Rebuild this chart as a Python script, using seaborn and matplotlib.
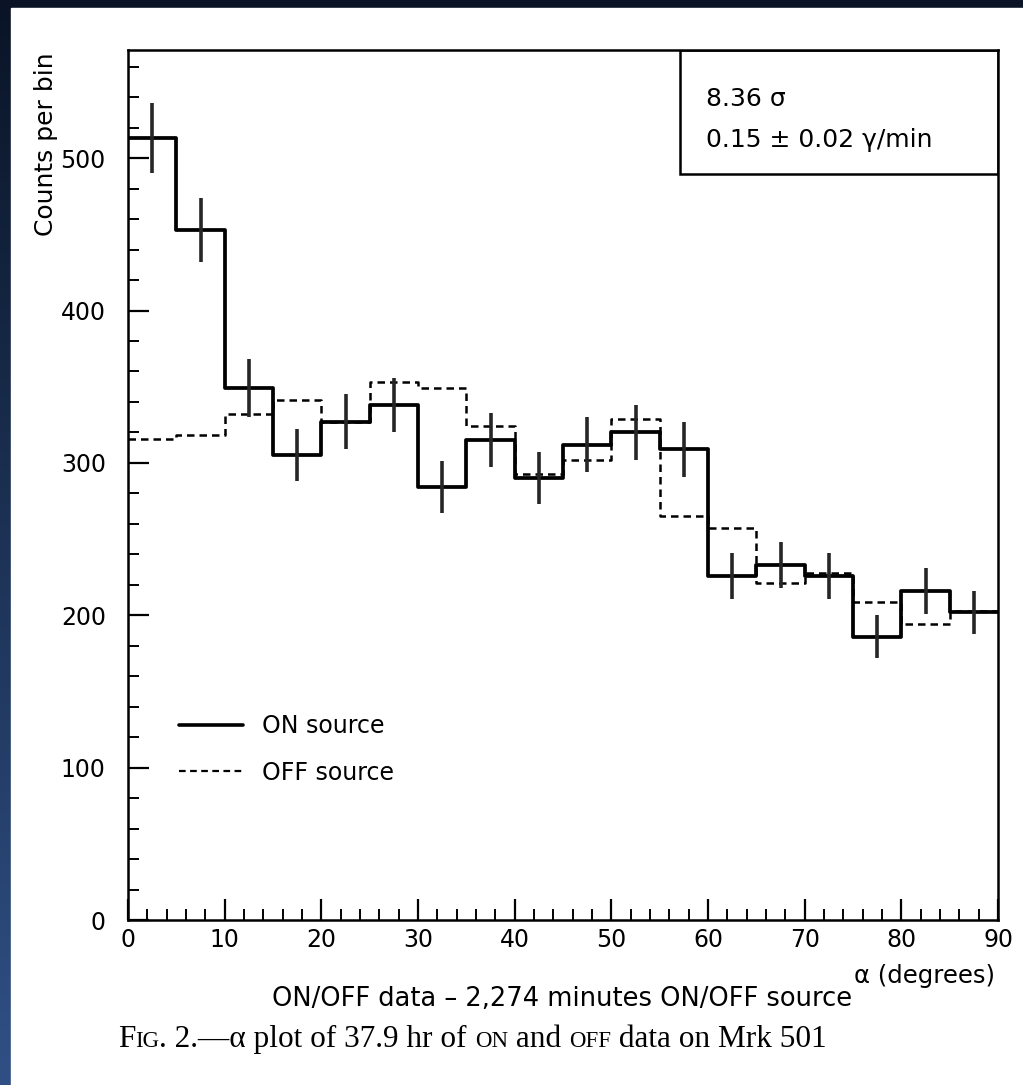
import numpy as np
import pandas as pd
import matplotlib
matplotlib.use("Agg")
import matplotlib.pyplot as plt
import seaborn as sns
from matplotlib.lines import Line2D
from matplotlib.patches import Rectangle
from matplotlib.ticker import MultipleLocator

# ---- data ----
bin_edges = [0, 5, 10, 15, 20, 25, 30, 35, 40, 45, 50, 55, 60, 65, 70, 75, 80, 85, 90]
bin_centers = [2.5, 7.5, 12.5, 17.5, 22.5, 27.5, 32.5, 37.5, 42.5, 47.5,
               52.5, 57.5, 62.5, 67.5, 72.5, 77.5, 82.5, 87.5]
on_counts = [513, 453, 349, 305, 327, 338, 284, 315, 290, 312,
             320, 309, 226, 233, 226, 186, 216, 202]
on_errors = [23, 21, 19, 17, 18, 18, 17, 18, 17, 18,
             18, 18, 15, 15, 15, 14, 15, 14]
off_counts = [316, 318, 332, 341, 327, 353, 349, 324, 293, 302,
              329, 265, 257, 221, 228, 209, 194, 203]
x_ticks = [0, 10, 20, 30, 40, 50, 60, 70, 80, 90]
y_ticks = [0, 100, 200, 300, 400, 500]
legend_labels = ["ON source", "OFF source"]
box_lines = ["8.36 σ", "0.15 ± 0.02 γ/min"]

df = pd.DataFrame({"alpha": bin_centers, "on": on_counts, "off": off_counts, "err": on_errors})

sns.set_theme(style="white")
plt.rcParams["font.family"] = ["DejaVu Sans"]
plt.rcParams["text.color"] = "black"

W, H = 1023, 1085
fig = plt.figure(figsize=(W / 100, H / 100), dpi=100)

# background: dark gradient frame + white page
bg = fig.add_axes([0, 0, 1, 1], zorder=-10)
grad = np.linspace(0, 1, 256)[:, None]
c0 = np.array([0x0a, 0x14, 0x26]) / 255
c1 = np.array([0x30, 0x50, 0x85]) / 255
img = c0[None, None, :] * (1 - grad[:, :, None]) + c1[None, None, :] * grad[:, :, None]
bg.imshow(np.repeat(img, 4, axis=1), aspect="auto", extent=[0, 1, 0, 1])
bg.add_patch(Rectangle((11 / W, 0), 1, 1 - 8 / H, color="white", transform=bg.transAxes))
bg.set_xlim(0, 1); bg.set_ylim(0, 1)
bg.axis("off")

def fx(px):
    return px / W

def fy(py):
    return 1 - py / H

ax = fig.add_axes([fx(128), fy(920), fx(998) - fx(128), fy(50) - fy(920)])
ax.set_facecolor("none")

sns.histplot(data=df, x="alpha", weights="on", bins=bin_edges, element="step", fill=False,
             color="black", linewidth=2.7, ax=ax)
sns.histplot(data=df, x="alpha", weights="off", bins=bin_edges, element="step", fill=False,
             color="black", linewidth=1.8, linestyle=(0, (3, 2)), ax=ax)
ax.errorbar(df["alpha"], df["on"], yerr=df["err"], fmt="none", ecolor="#262626",
            elinewidth=2.6, capsize=0)

ax.set_xlim(0, 90)
ax.set_ylim(0, 571)
ax.set_xlabel("")
ax.set_ylabel("")
ax.set_xticks(x_ticks)
ax.set_yticks(y_ticks)
ax.xaxis.set_minor_locator(MultipleLocator(2))
ax.yaxis.set_minor_locator(MultipleLocator(20))
ax.tick_params(axis="both", which="both", bottom=True, left=True, top=False, right=False,
               direction="in", colors="black", labelcolor="black")
ax.tick_params(axis="both", which="major", length=15, width=1.6, labelsize=17)
ax.tick_params(axis="both", which="minor", length=8, width=1.4)
ax.tick_params(axis="x", which="major", pad=6)
ax.tick_params(axis="y", which="major", pad=16)
for s in ax.spines.values():
    s.set_visible(True)
    s.set_color("black")
    s.set_linewidth(1.8)

# info box
ax.add_patch(Rectangle((fx(680), fy(174)), fx(998) - fx(680), fy(50) - fy(174),
                       transform=fig.transFigure, fill=False, edgecolor="black",
                       linewidth=1.8, zorder=5))
fig.text(fx(706), fy(99), box_lines[0], fontsize=18, va="center", ha="left")
fig.text(fx(706), fy(140), box_lines[1], fontsize=18, va="center", ha="left")

# legend
handles = [Line2D([], [], color="black", linewidth=2.6),
           Line2D([], [], color="black", linewidth=1.6, linestyle=(0, (3, 2)))]
leg = ax.legend(handles, legend_labels, loc="upper left",
                bbox_to_anchor=(fx(158), fy(693)), bbox_transform=fig.transFigure,
                frameon=False, fontsize=17, handlelength=2.7, labelspacing=0.95,
                handletextpad=0.8)
for t in leg.get_texts():
    t.set_color("black")

# axis titles
fig.text(fx(46), fy(52), "Counts per bin", rotation=90, fontsize=18, ha="center", va="top")
fig.text(fx(995), fy(976), "α (degrees)", fontsize=17.5, ha="right", va="center")
fig.text(fx(562), fy(999), "ON/OFF data – 2,274 minutes ON/OFF source", fontsize=18.5,
         ha="center", va="center")

# caption with small caps
pieces = [("F", 22.5), ("IG", 16.5), (". 2.—α plot of 37.9 hr of ", 22.5), ("ON", 16.5),
          (" and ", 22.5), ("OFF", 16.5), (" data on Mrk 501", 22.5)]
fig.canvas.draw()
renderer = fig.canvas.get_renderer()
xpos = fx(118)
for txt, size in pieces:
    t = fig.text(xpos, fy(1047), txt, fontsize=size, family="Liberation Serif",
                 ha="left", va="baseline", color="black")
    bb = t.get_window_extent(renderer)
    xpos = bb.x1 / fig.bbox.width

fig.savefig("out.png", dpi=100, facecolor=fig.get_facecolor())
